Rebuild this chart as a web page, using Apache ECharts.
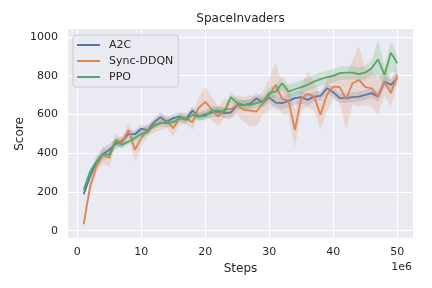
<!DOCTYPE html>
<html>
<head>
<meta charset="utf-8">
<script src="https://cdn.jsdelivr.net/npm/echarts@6/dist/echarts.min.js"></script>
<style>html,body{margin:0;padding:0;background:#fff}#c{width:432px;height:288px}</style>
</head>
<body>
<div id="c"></div>
<script>
const steps = [1,2,3,4,5,6,7,8,9,10,11,12,13,14,15,16,17,18,19,20,21,22,23,24,25,26,27,28,29,30,31,32,33,34,35,36,37,38,39,40,41,42,43,44,45,46,47,48,49,50];
const xTicks = [0,10,20,30,40,50];
const yTicks = [0,200,400,600,800,1000];
const seriesNames = ['A2C','Sync-DDQN','PPO'];

const a2cMean = [189,280,354,395,418,447,464,498,498,526,520,560,586,563,581,589,577,620,589,600,610,615,607,610,649,649,655,684,661,687,661,658,670,684,689,675,692,696,735,715,684,684,689,692,701,710,692,770,753,787];
const a2cLo   = [175,265,325,360,390,422,440,478,478,506,500,540,561,543,561,569,557,598,567,576,585,590,582,585,624,624,630,659,636,662,628,625,636,650,655,645,667,671,710,690,659,659,664,667,676,685,664,740,723,757];
const a2cHi   = [205,295,385,430,448,472,488,518,518,546,540,580,611,583,601,609,597,642,611,624,635,640,632,635,674,674,680,709,686,712,694,691,704,718,723,705,717,721,760,740,709,709,714,717,726,735,720,800,783,817];

const ddqnMean = [34,228,331,392,375,469,452,521,418,478,520,538,555,563,529,581,581,560,636,665,627,589,627,627,649,624,620,615,658,700,753,679,672,521,684,706,692,598,701,744,741,679,761,778,741,735,692,770,710,804];
const ddqnLo   = [12,190,300,345,330,440,425,490,355,430,490,505,520,530,490,550,550,520,590,590,570,540,580,575,600,560,540,540,600,620,650,600,600,428,620,640,620,520,620,680,660,520,650,640,650,640,600,700,640,760];
const ddqnHi   = [60,270,365,430,420,500,480,555,480,525,550,570,590,600,570,610,610,600,690,740,690,640,680,680,700,690,700,690,720,790,870,760,750,620,750,820,770,700,780,810,820,800,880,955,830,830,780,840,780,850];

const ppoMean = [211,306,357,395,392,460,443,460,478,498,510,546,555,555,560,581,572,598,589,592,620,620,615,689,658,649,649,658,667,710,718,761,718,730,741,753,770,782,792,799,813,816,816,808,816,839,885,804,919,864];
const ppoLo   = [195,290,340,378,375,440,425,442,460,480,492,526,535,535,540,561,552,578,569,570,598,598,593,662,633,624,624,633,640,680,688,726,683,695,706,718,735,747,757,764,778,781,781,773,781,800,795,755,821,820];
const ppoHi   = [227,322,374,412,410,480,461,478,496,516,528,566,575,575,580,601,592,618,609,614,642,642,637,716,683,674,674,683,694,740,748,796,753,765,776,788,805,817,827,834,848,851,851,843,851,878,985,853,976,908];

const colors = ['#4c72b0','#dd8452','#55a868'];
const groups = [
  {name: seriesNames[0], mean: a2cMean, lo: a2cLo, hi: a2cHi, color: colors[0]},
  {name: seriesNames[1], mean: ddqnMean, lo: ddqnLo, hi: ddqnHi, color: colors[1]},
  {name: seriesNames[2], mean: ppoMean, lo: ppoLo, hi: ppoHi, color: colors[2]}
];
const FONT = 'DejaVu Sans';
const TXT = '#262626';

const series = [];
// gridlines (white) via markLine on an empty helper series
series.push({
  name: '_grid', type: 'line', data: [], silent: true, z: 0,
  markLine: {
    silent: true, symbol: 'none', label: {show: false}, animation: false, z: 0,
    lineStyle: {color: '#ffffff', width: 1, type: 'solid'},
    data: xTicks.map(v => ({xAxis: v})).concat(yTicks.map(v => ({yAxis: v})))
  }
});
groups.forEach((g, gi) => {
  series.push({
    name: g.name + '_band', type: 'custom', silent: true, z: 1 + gi * 2, clip: true,
    data: steps.map((x, i) => [x, g.lo[i], g.hi[i]]),
    encode: {x: 0, y: [1, 2]},
    renderItem: function (params, api) {
      if (params.dataIndex !== 0) return null;
      const pts = [];
      for (let i = 0; i < steps.length; i++) pts.push(api.coord([steps[i], g.hi[i]]));
      for (let i = steps.length - 1; i >= 0; i--) pts.push(api.coord([steps[i], g.lo[i]]));
      return {type: 'polygon', shape: {points: pts}, style: {fill: g.color, opacity: 0.2}};
    }
  });
  series.push({
    name: g.name, type: 'line', symbol: 'none',
    data: steps.map((x, i) => [x, g.mean[i]]),
    lineStyle: {color: g.color, width: 1.8}, itemStyle: {color: g.color}, z: 2 + gi * 2
  });
});

const chart = echarts.init(document.getElementById('c'), null, {renderer: 'canvas'});
chart.setOption({
  animation: false,
  backgroundColor: '#ffffff',
  grid: {left: 68, right: 19, top: 29, bottom: 50, backgroundColor: '#eaeaf2', show: true, borderWidth: 0},
  legend: {
    z: 20,
    data: seriesNames, orient: 'vertical', left: 73, top: 35,
    icon: 'rect', itemWidth: 23, itemHeight: 2, itemGap: 4,
    padding: [4, 5, 4, 4],
    backgroundColor: 'rgba(234,234,242,0.85)', borderColor: '#cccccc', borderWidth: 1, borderRadius: 3,
    textStyle: {fontFamily: FONT, fontSize: 11, color: TXT, padding: [0, 0, 0, 4], lineHeight: 12}
  },
  graphic: [
    {type: 'text', x: 240.5, y: 19, style: {text: 'SpaceInvaders', font: '12px "DejaVu Sans"', fill: TXT, textAlign: 'center', textVerticalAlign: 'middle'}},
    {type: 'text', x: 19.5, y: 134, rotation: Math.PI / 2, style: {text: 'Score', font: '12px "DejaVu Sans"', fill: TXT, textAlign: 'center', textVerticalAlign: 'middle'}},
    {type: 'text', x: 412, y: 267, style: {text: '1e6', font: '11px "DejaVu Sans"', fill: TXT, textAlign: 'right', textVerticalAlign: 'middle'}}
  ],
  xAxis: {
    type: 'value', min: -1.45, max: 52.45,
    name: 'Steps', nameLocation: 'middle', nameGap: 24,
    nameTextStyle: {fontFamily: FONT, fontSize: 12, color: TXT},
    axisLine: {show: false}, axisTick: {show: false, customValues: xTicks},
    axisLabel: {customValues: xTicks, fontFamily: FONT, fontSize: 11, color: TXT, margin: 9, formatter: v => String(v)},
    splitLine: {show: false}
  },
  yAxis: {
    type: 'value', min: -37.6, max: 1041,
    axisLine: {show: false}, axisTick: {show: false, customValues: yTicks},
    axisLabel: {customValues: yTicks, fontFamily: FONT, fontSize: 11, color: TXT, margin: 10, formatter: v => String(v)},
    splitLine: {show: false}
  },
  series: series
});
</script>
</body>
</html>
